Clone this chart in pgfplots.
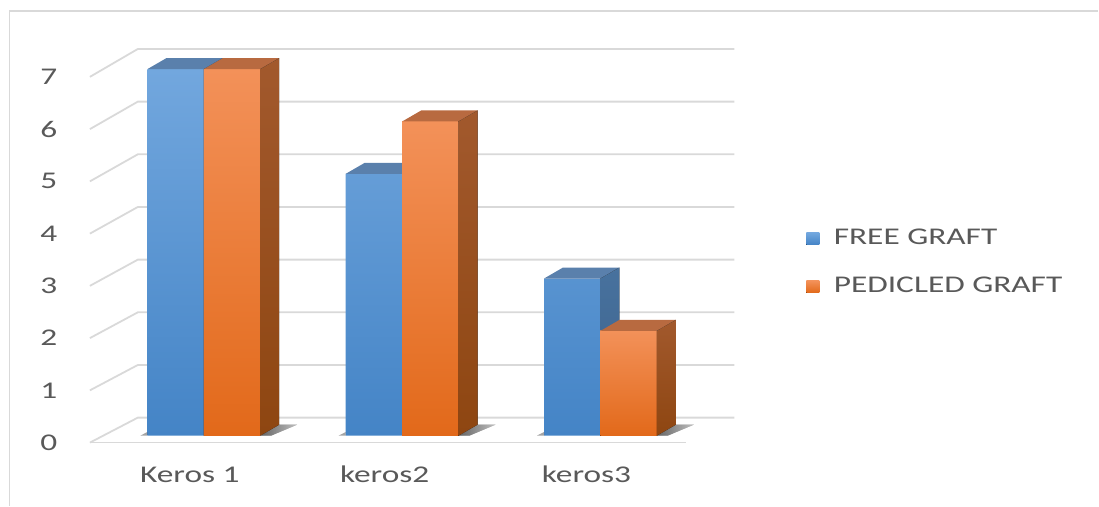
\documentclass[border=0pt]{standalone}
\usepackage{pgfplots}
\pgfplotsset{compat=1.18}
\usepackage{pgfplotstable}
\usepackage{fontspec}
\setmainfont{Carlito}

\definecolor{txt}{HTML}{595959}
\definecolor{gridc}{HTML}{D9D9D9}
\definecolor{bluehi}{HTML}{72A7DE}
\definecolor{bluelo}{HTML}{4484C6}
\definecolor{bluetop}{HTML}{5A80AC}
\definecolor{bluesidehi}{HTML}{48729E}
\definecolor{bluesidelo}{HTML}{3A5F89}
\definecolor{orghi}{HTML}{F39159}
\definecolor{orglo}{HTML}{E2691A}
\definecolor{orgtop}{HTML}{B86A40}
\definecolor{orgsidehi}{HTML}{A2592D}
\definecolor{orgsidelo}{HTML}{8E4611}

% number of cases per technique
\pgfplotstableread{
x free pedicled
0 7 7
1 5 6
2 3 2
}\grafts

% the lettering of the chart is set wide
\newcommand\wide[1]{\scalebox{1.39}[1]{#1}}
\newcommand\chartfont{\fontsize{12pt}{14pt}\selectfont}

\pgfdeclareplotmark{blank}{}
\newdimen\barfaceh

% height of the current bar, from its value
\newcommand\setbarh{\global\barfaceh=-\pgfplotspointmeta\dimexpr 26.2pt\relax}

% top and right faces of a bar (with its floor shadow), drawn from the top of the front face
% #1 left edge, #2 right edge (relative to the category), #3 top colour, #4/#5 side shade
\newcommand\barfaces[5]{%
  \begingroup
  \pgfkeys{/pgf/fpu=false}%
  \setbarh
  \fill[draw=none, left color=black!65, right color=white, opacity=0.55]
    (#2,\barfaceh) -- ++(9.5pt,5.5pt) -- ++(9pt,0pt) -- ++(-13pt,-5.5pt) -- cycle;
  \fill[draw=none, #3] (#1,0pt) -- (#2,0pt) -- ++(9.5pt,5.5pt) -- ++(-28.25pt,0pt) -- cycle;
  \fill[draw=none, top color=#4, bottom color=#5]
    (#2,0pt) -- ++(9.5pt,5.5pt) -- ++(0pt,\barfaceh) -- ++(-9.5pt,-5.5pt) -- cycle;
  \endgroup
}
% front face of a bar, so that it lies over the faces of its left neighbour
\newcommand\barfront[4]{%
  \begingroup
  \pgfkeys{/pgf/fpu=false}%
  \setbarh
  \fill[draw=none, top color=#3, bottom color=#4] (#1,0pt) rectangle (#2,\barfaceh);
  \endgroup
}
% small shadow at the foot of the left bar
\newcommand\leftshadow[1]{%
  \begingroup
  \pgfkeys{/pgf/fpu=false}%
  \setbarh
  \fill[draw=none, black!65, opacity=0.55] (#1,\barfaceh) -- ++(0pt,1.8pt) -- ++(-3.5pt,-1.8pt) -- cycle;
  \endgroup
}

\pgfplotsset{
  barleg/.style={legend image code/.code={\fill[##1] (0pt,-4pt) rectangle (6.5pt,2pt);}},
}

\begin{document}
\begin{tikzpicture}
\begin{axis}[
  x=99.25pt, y=26.2pt,
  xmin=-1.0277, xmax=4.5088, ymin=-1.3359, ymax=8.3206,
  hide axis, clip=false,
  legend cell align=left,
  legend style={at={(axis description cs:0.7343,0.5474)}, anchor=north west,
    draw=none, fill=none, inner sep=0pt, outer sep=0pt,
    row sep=16pt, column sep=7.3pt,
    font=\chartfont, text=txt,
    nodes={inner sep=0pt, text height=8pt, text depth=0pt}},
]
\path (rel axis cs:0,0) rectangle (rel axis cs:1,1);

% outer frame
\draw[gridc, line width=1pt] (axis cs:-0.9798,-1.3359) -- (axis cs:-0.9798,8.120) -- (axis cs:4.5088,8.120);

% gridlines: side wall and back wall
\draw[gridc, line width=0.9pt] (axis cs:-0.5743,-0.1336) -- (axis cs:-0.3325,0.3435) -- (axis cs:2.6751,0.3435);
\draw[gridc, line width=0.9pt] (axis cs:-0.5743,0.8644) -- (axis cs:-0.3325,1.3495) -- (axis cs:2.6751,1.3495);
\draw[gridc, line width=0.9pt] (axis cs:-0.5743,1.8624) -- (axis cs:-0.3325,2.3555) -- (axis cs:2.6751,2.3555);
\draw[gridc, line width=0.9pt] (axis cs:-0.5743,2.8604) -- (axis cs:-0.3325,3.3615) -- (axis cs:2.6751,3.3615);
\draw[gridc, line width=0.9pt] (axis cs:-0.5743,3.8584) -- (axis cs:-0.3325,4.3675) -- (axis cs:2.6751,4.3675);
\draw[gridc, line width=0.9pt] (axis cs:-0.5743,4.8564) -- (axis cs:-0.3325,5.3735) -- (axis cs:2.6751,5.3735);
\draw[gridc, line width=0.9pt] (axis cs:-0.5743,5.8544) -- (axis cs:-0.3325,6.3795) -- (axis cs:2.6751,6.3795);
\draw[gridc, line width=0.9pt] (axis cs:-0.5743,6.8524) -- (axis cs:-0.3325,7.3855) -- (axis cs:2.6751,7.3855);
% front edge of the floor
\draw[gridc, line width=0.9pt] (axis cs:-0.5743,-0.1336) -- (axis cs:2.4332,-0.1336);

% value axis labels
\begin{scope}[every node/.style={text=txt, font=\chartfont}]
\node at (axis cs:-0.7809,-0.1336) {\wide{0}};
\node at (axis cs:-0.7809,0.8644) {\wide{1}};
\node at (axis cs:-0.7809,1.8624) {\wide{2}};
\node at (axis cs:-0.7809,2.8604) {\wide{3}};
\node at (axis cs:-0.7809,3.8584) {\wide{4}};
\node at (axis cs:-0.7809,4.8564) {\wide{5}};
\node at (axis cs:-0.7809,5.8544) {\wide{6}};
\node at (axis cs:-0.7809,6.8524) {\wide{7}};
% category labels
\node[anchor=base] at (axis cs:-0.0705,-0.897) {\wide{Keros 1}};
\node[anchor=base] at (axis cs:0.9118,-0.897) {\wide{keros2}};
\node[anchor=base] at (axis cs:1.9295,-0.897) {\wide{keros3}};
\end{scope}

% FREE GRAFT
\addplot[ybar, bar width=28.25pt, bar shift=-14.125pt, draw=none,
  top color=bluehi, bottom color=bluelo, barleg]
  table[x=x, y=free] {\grafts};
\addlegendentry{\wide{FREE GRAFT}}

% PEDICLED GRAFT
\addplot[ybar, bar width=28.25pt, bar shift=14.125pt, draw=none,
  top color=orghi, bottom color=orglo, barleg]
  table[x=x, y=pedicled] {\grafts};
\addlegendentry{\wide{PEDICLED GRAFT}}

% depth faces of the FREE GRAFT bars
\addplot[forget plot, scatter, only marks, mark=blank,
  point meta=explicit symbolic,
  scatter/@pre marker code/.code={\barfaces{-28.25pt}{0pt}{bluetop}{bluesidehi}{bluesidelo}\leftshadow{-28.25pt}},
  scatter/@post marker code/.code={}]
  table[x=x, y=free, meta=free] {\grafts};

% PEDICLED GRAFT bars in front of them, with their own depth faces
\addplot[forget plot, scatter, only marks, mark=blank,
  point meta=explicit symbolic,
  scatter/@pre marker code/.code={\barfront{0pt}{28.25pt}{orghi}{orglo}\barfaces{0pt}{28.25pt}{orgtop}{orgsidehi}{orgsidelo}},
  scatter/@post marker code/.code={}]
  table[x=x, y=pedicled, meta=pedicled] {\grafts};
\end{axis}
\end{tikzpicture}
\end{document}
